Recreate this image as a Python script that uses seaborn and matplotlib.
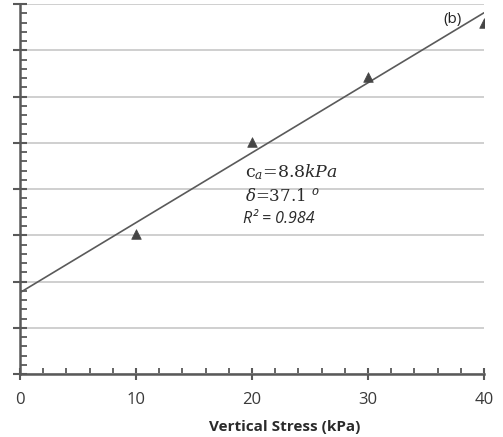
import numpy as np
import pandas as pd
import matplotlib
matplotlib.use("Agg")
import matplotlib.pyplot as plt
import seaborn as sns
from matplotlib.ticker import MultipleLocator

# ---- data ----
vertical_stress = [10, 20, 30, 40]
shear_stress = [15.1, 25.1, 32.1, 37.9]
adhesion_ca = 8.8          # kPa (intercept)
friction_delta = 37.1      # degrees
r_squared = 0.984
x_ticks = [0, 10, 20, 30, 40]
x_label = "Vertical Stress (kPa)"
panel_label = "(b)"

sns.set_theme(style="white")
plt.rcParams['font.family'] = ['Open Sans', 'DejaVu Sans']
plt.rcParams['mathtext.fontset'] = 'dejavuserif'

fig = plt.figure(figsize=(5.03, 4.37), dpi=100)
ax = fig.add_axes([20/503, 1 - 374/437, 464/503, 370/437])

x_lim = (0, 40)
y_lim = (0, 40)
ax.set_xlim(*x_lim)
ax.set_ylim(*y_lim)

# grid
ax.yaxis.set_major_locator(MultipleLocator(5))
ax.yaxis.set_minor_locator(MultipleLocator(1))
ax.xaxis.set_major_locator(MultipleLocator(10))
ax.xaxis.set_minor_locator(MultipleLocator(2))
ax.grid(axis='y', which='major', color='#cfcfcf', linewidth=1.4)
ax.grid(axis='x', visible=False)
ax.set_axisbelow(True)

# fit line from parameters
fit_df = pd.DataFrame({"x": list(x_lim)})
fit_df["y"] = adhesion_ca + np.tan(np.radians(friction_delta)) * fit_df["x"]
sns.lineplot(data=fit_df, x="x", y="y", ax=ax, color='#5a5a5a', linewidth=1.2)

pts = pd.DataFrame({"x": vertical_stress, "y": shear_stress})
sns.scatterplot(data=pts, x="x", y="y", ax=ax, marker='^', s=48,
                color='#454545', edgecolor='#454545', linewidth=0.5, zorder=5)

# spines
for s in ['top', 'right']:
    ax.spines[s].set_visible(False)
for s in ['left', 'bottom']:
    ax.spines[s].set_color('#595959')
    ax.spines[s].set_linewidth(1.8)

ax.set_xticks(x_ticks)
ax.tick_params(axis='x', which='both', bottom=True)
ax.tick_params(axis='y', which='both', left=True)
ax.tick_params(axis='x', which='major', direction='inout', length=8, width=1.5,
               color='#595959', pad=9, labelsize=12, labelcolor='#3a3a3a')
ax.tick_params(axis='x', which='minor', direction='in', length=4, width=1.3,
               color='#595959')
ax.tick_params(axis='y', which='major', direction='inout', length=10, width=1.5,
               color='#595959', labelleft=False)
ax.tick_params(axis='y', which='minor', direction='in', length=5, width=1.3,
               color='#595959')

ax.set_ylabel("")
ax.set_xlabel(x_label, fontsize=11, fontweight='bold', color='#2a2a2a')
ax.xaxis.set_label_coords(0.571, -0.124)

# annotations
ax.text((453-20)/464, 1 - 15/370, panel_label, transform=ax.transAxes,
        ha='center', va='center', fontsize=11, color='#222222')
ax.text((245-20)/464, (374-172)/370, r"c$_{a}$=8.8$kPa$", transform=ax.transAxes,
        ha='left', va='center', fontsize=12.5, color='#2a2a2a', family='DejaVu Serif')
ax.text((245-20)/464, (374-197)/370, r"$\delta$=37.1 $^{o}$", transform=ax.transAxes,
        ha='left', va='center', fontsize=12, color='#2a2a2a', family='DejaVu Serif')
ax.text((243-20)/464, (374-219)/370, f"R² = {r_squared}", transform=ax.transAxes,
        ha='left', va='center', fontsize=11.5, color='#2a2a2a', style='italic')

fig.savefig("out.png", dpi=100)
